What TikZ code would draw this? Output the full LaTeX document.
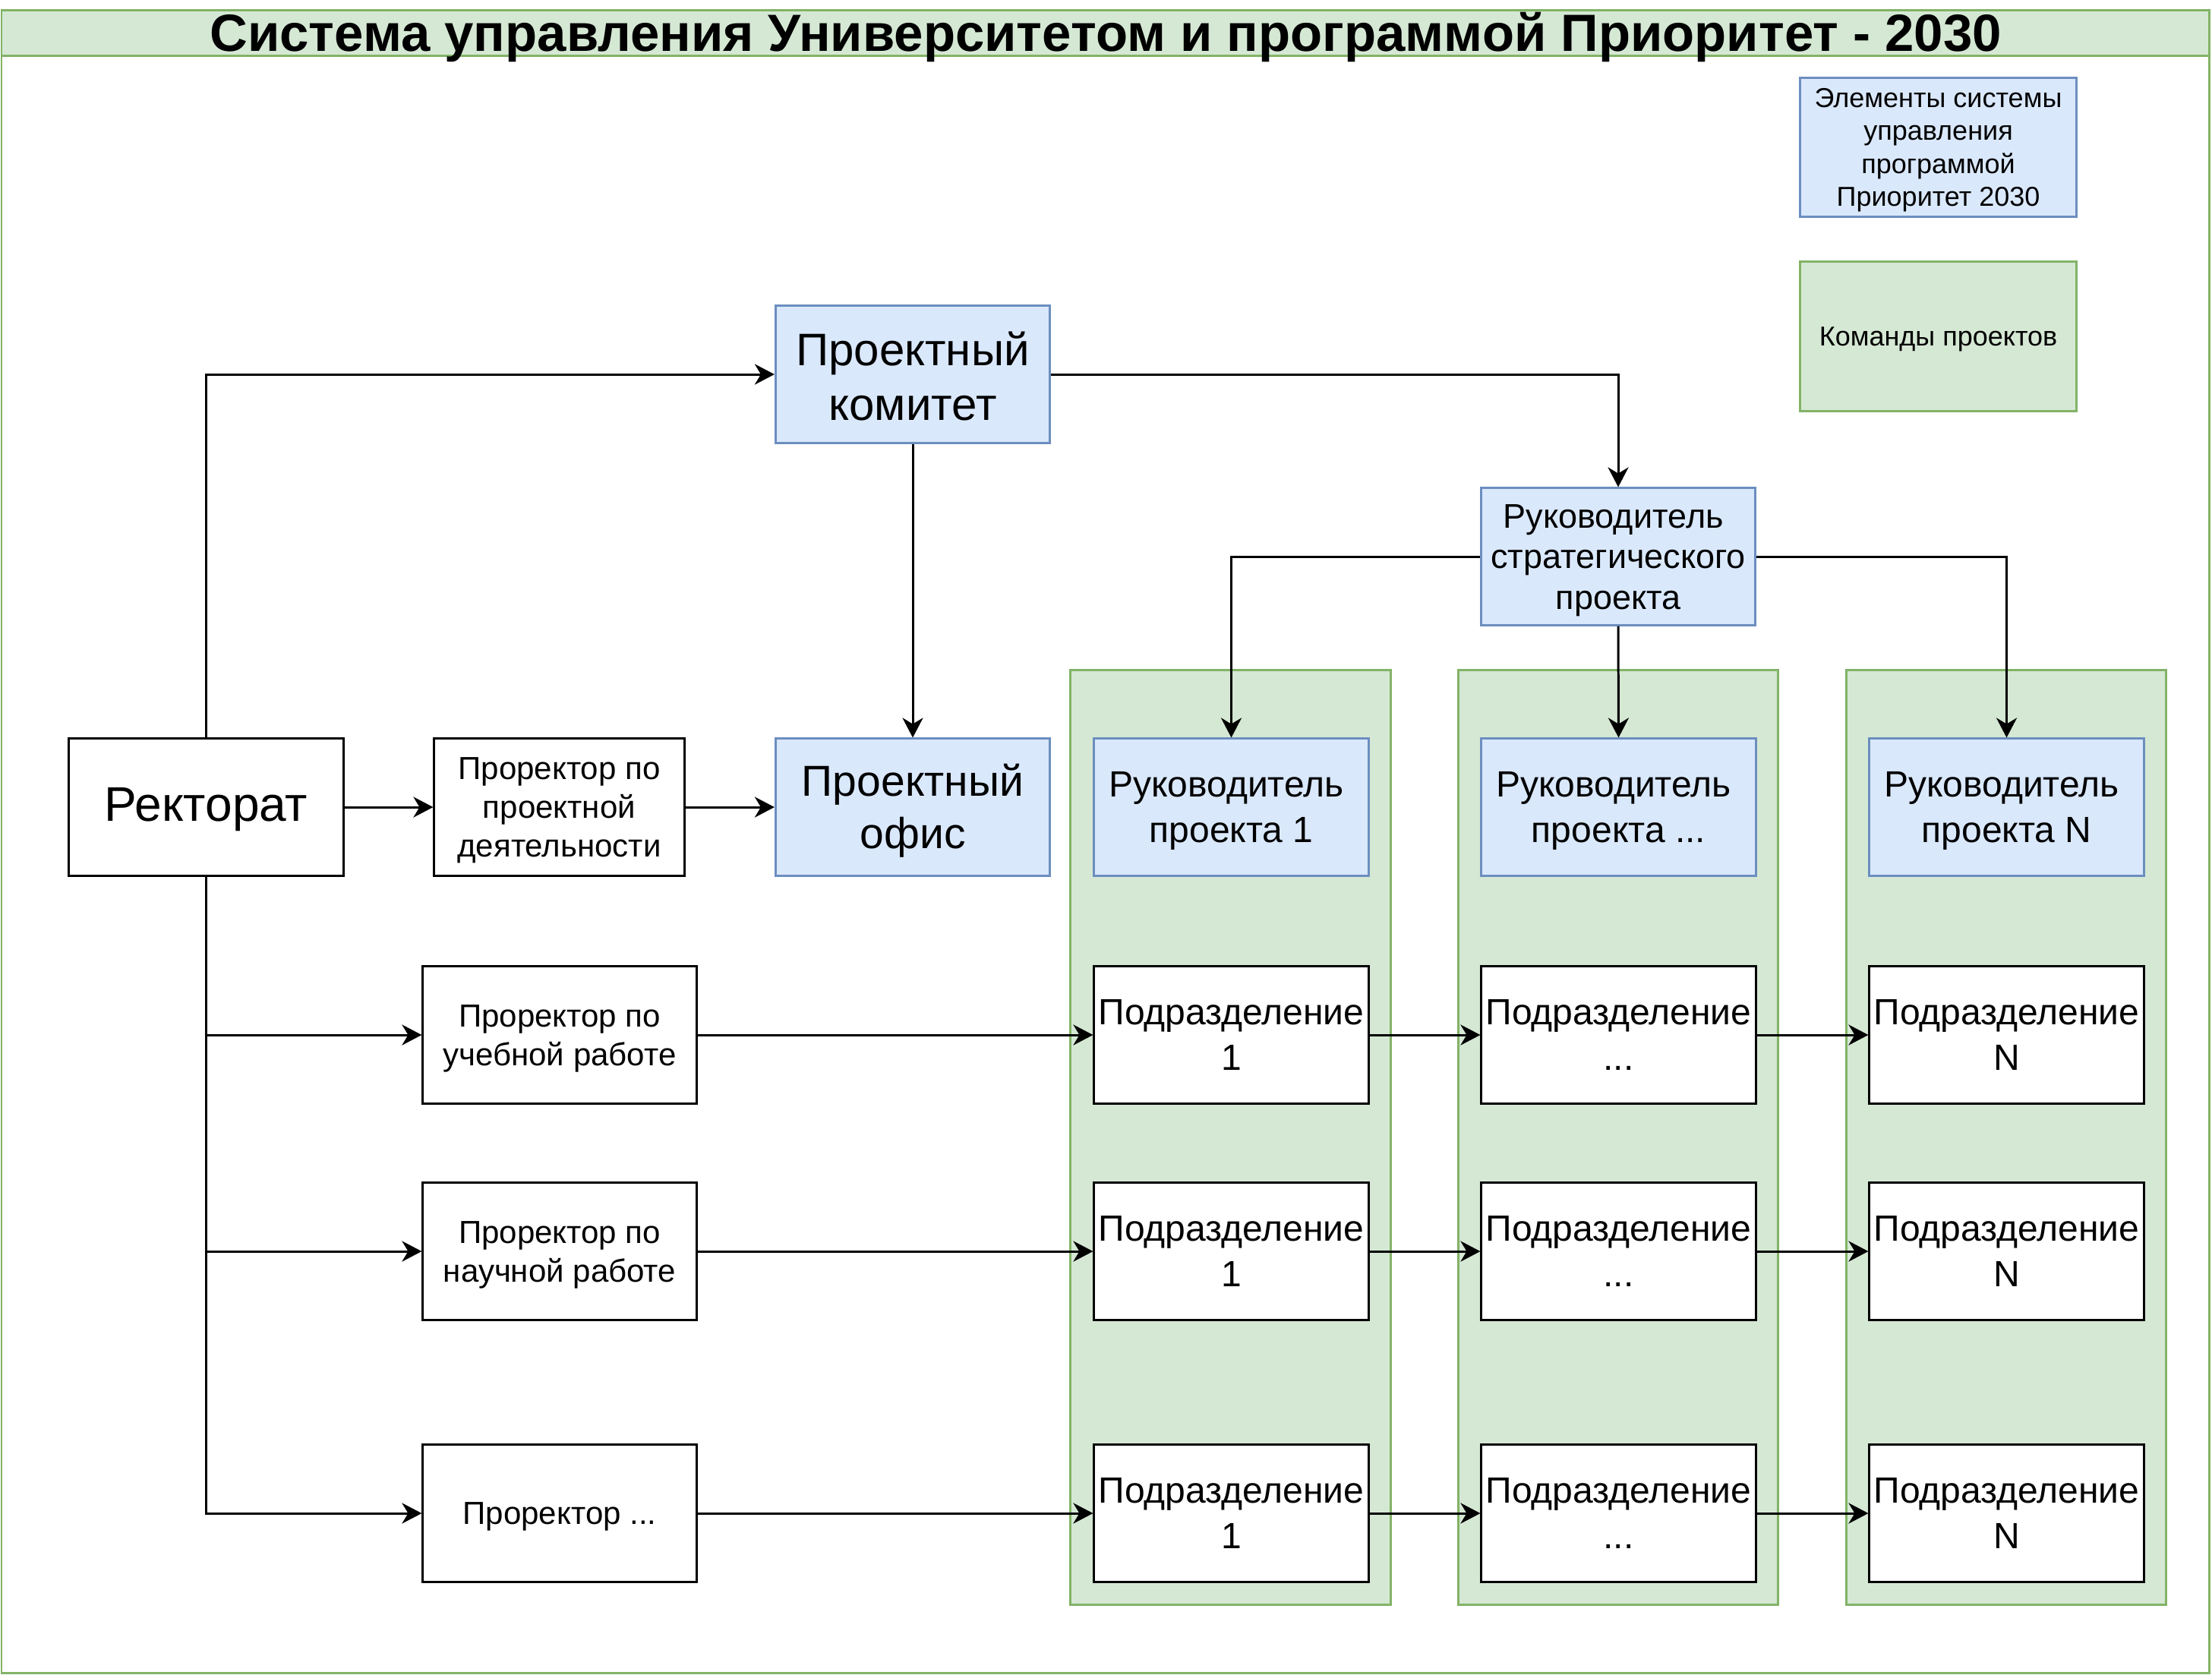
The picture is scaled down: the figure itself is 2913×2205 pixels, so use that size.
\documentclass[tikz,border=0pt]{standalone}
\usepackage{fontspec}
\setmainfont{Liberation Sans}
\usetikzlibrary{arrows.meta}
\definecolor{bfill}{HTML}{DAE8FC}
\definecolor{bdraw}{HTML}{6C8EBF}
\definecolor{gfill}{HTML}{D5E8D4}
\definecolor{gdraw}{HTML}{82B366}
\newcommand\topstrut[1][0.9465em]{\rule{0pt}{#1}}
\newcommand\botstrut{\rule[-0.2535em]{0pt}{0pt}}
\tikzset{
 box/.style={draw=black, fill=white, line width=0.85pt, minimum width=3.61cm, minimum height=1.80cm, inner sep=1pt, align=center, text=black},
 bluebox/.style={box, draw=bdraw, fill=bfill},
 grp/.style={draw=gdraw, fill=gfill, line width=0.85pt, minimum width=4.21cm, minimum height=12.30cm, inner sep=0pt},
 arr/.style={draw=black, line width=0.85pt, -{Stealth[length=7.4pt,width=7.7pt,inset=2.3pt]}},
 fsmall/.style={font=\fontsize{10.24pt}{12.25pt}\selectfont},
 fpr/.style={font=\fontsize{11.95pt}{14.5pt}\selectfont},
 fstrat/.style={font=\fontsize{12.8pt}{15.2pt}\selectfont},
 fmid/.style={font=\fontsize{13.66pt}{17pt}\selectfont},
 foffice/.style={font=\fontsize{16.22pt}{19.6pt}\selectfont},
 fbig/.style={font=\fontsize{17.07pt}{20.5pt}\selectfont},
 frect/.style={font=\fontsize{18.2pt}{21.8pt}\selectfont},
}
\begin{document}
\begin{tikzpicture}[x=0.01cm,y=-0.01cm]
\useasboundingbox (0,0) rectangle (2913,2205);
% frame and title bar
\draw[draw=gdraw, fill=white, line width=0.85pt] (2,73) rectangle (2909,2203);
\draw[draw=gdraw, fill=gfill, line width=0.85pt] (2,13) rectangle (2909,73);
\node[anchor=base, inner sep=0pt, font=\bfseries\fontsize{19.6pt}{23pt}\selectfont] (title) at (1456,67) {Система управления Университетом и программой Приоритет - 2030};

% legend
\node[bluebox, fsmall, minimum width=3.63cm, minimum height=1.82cm] (legA) at (2552.5,194) {\topstrut Элементы системы\\управления\\программой\\Приоритет 2030\botstrut};
\node[box, draw=gdraw, fill=gfill, fsmall, minimum width=3.63cm, minimum height=1.96cm] (legB) at (2552.5,443) {\topstrut Команды проектов\botstrut};

% project team columns
\node[grp] (col1) at (1620.5,1498) {};
\node[grp] (col2) at (2131,1498) {};
\node[grp] (col3) at (2642,1498) {};

% main nodes
\node[bluebox, fbig] (komitet) at (1202,493) {\topstrut[1.08em]Проектный\\комитет\botstrut};
\node[bluebox, foffice] (office) at (1202,1063) {\topstrut Проектный\\офис\botstrut};
\node[box, frect] (rektorat) at (271.5,1063) {\topstrut[0.83em]Ректорат\botstrut};
\node[box, fpr, minimum width=3.29cm] (prproj) at (736.5,1063) {\topstrut Проректор по\\проектной\\деятельности\botstrut};
\node[bluebox, fstrat] (strat) at (2131,733) {\topstrut Руководитель\hspace*{.28em}\\стратегического\\проекта\botstrut};

\node[bluebox, fmid] (ruk1) at (1621.5,1063) {\topstrut Руководитель\hspace*{.28em}\\проекта 1\botstrut};
\node[bluebox, fmid] (ruk2) at (2131.5,1063) {\topstrut Руководитель\hspace*{.28em}\\проекта ...\botstrut};
\node[bluebox, fmid] (ruk3) at (2642.5,1063) {\topstrut Руководитель\hspace*{.28em}\\проекта N\botstrut};

\node[box, fpr, minimum width=3.60cm] (pr1) at (737,1363) {\topstrut Проректор по\\учебной работе\botstrut};
\node[box, fpr, minimum width=3.60cm] (pr2) at (737,1648) {\topstrut Проректор по\\научной работе\botstrut};
\node[box, fpr, minimum width=3.60cm] (pr3) at (737,1993) {\topstrut Проректор ...\botstrut};

\node[box, fmid] (p11) at (1621.5,1363) {\topstrut Подразделение\\1\botstrut};
\node[box, fmid] (p12) at (2131.5,1363) {\topstrut Подразделение\\...\botstrut};
\node[box, fmid] (p13) at (2642.5,1363) {\topstrut Подразделение\\N\botstrut};
\node[box, fmid] (p21) at (1621.5,1648) {\topstrut Подразделение\\1\botstrut};
\node[box, fmid] (p22) at (2131.5,1648) {\topstrut Подразделение\\...\botstrut};
\node[box, fmid] (p23) at (2642.5,1648) {\topstrut Подразделение\\N\botstrut};
\node[box, fmid] (p31) at (1621.5,1993) {\topstrut Подразделение\\1\botstrut};
\node[box, fmid] (p32) at (2131.5,1993) {\topstrut Подразделение\\...\botstrut};
\node[box, fmid] (p33) at (2642.5,1993) {\topstrut Подразделение\\N\botstrut};

% connectors
\draw[arr] (rektorat.north) |- (komitet.west);
\draw[arr] (komitet.east) -| (strat.north);
\draw[arr] (komitet.south) -- (office.north);
\draw[arr] (rektorat.east) -- (prproj.west);
\draw[arr] (prproj.east) -- (office.west);
\draw[arr] (strat.west) -| (ruk1.north);
\draw[arr] (strat.south) -- (ruk2.north);
\draw[arr] (strat.east) -| (ruk3.north);
\draw[arr] (rektorat.south) |- (pr1.west);
\draw[arr] (rektorat.south) |- (pr2.west);
\draw[arr] (rektorat.south) |- (pr3.west);
\draw[arr] (pr1.east) -- (p11.west);
\draw[arr] (p11.east) -- (p12.west);
\draw[arr] (p12.east) -- (p13.west);
\draw[arr] (pr2.east) -- (p21.west);
\draw[arr] (p21.east) -- (p22.west);
\draw[arr] (p22.east) -- (p23.west);
\draw[arr] (pr3.east) -- (p31.west);
\draw[arr] (p31.east) -- (p32.west);
\draw[arr] (p32.east) -- (p33.west);
\end{tikzpicture}
\end{document}
